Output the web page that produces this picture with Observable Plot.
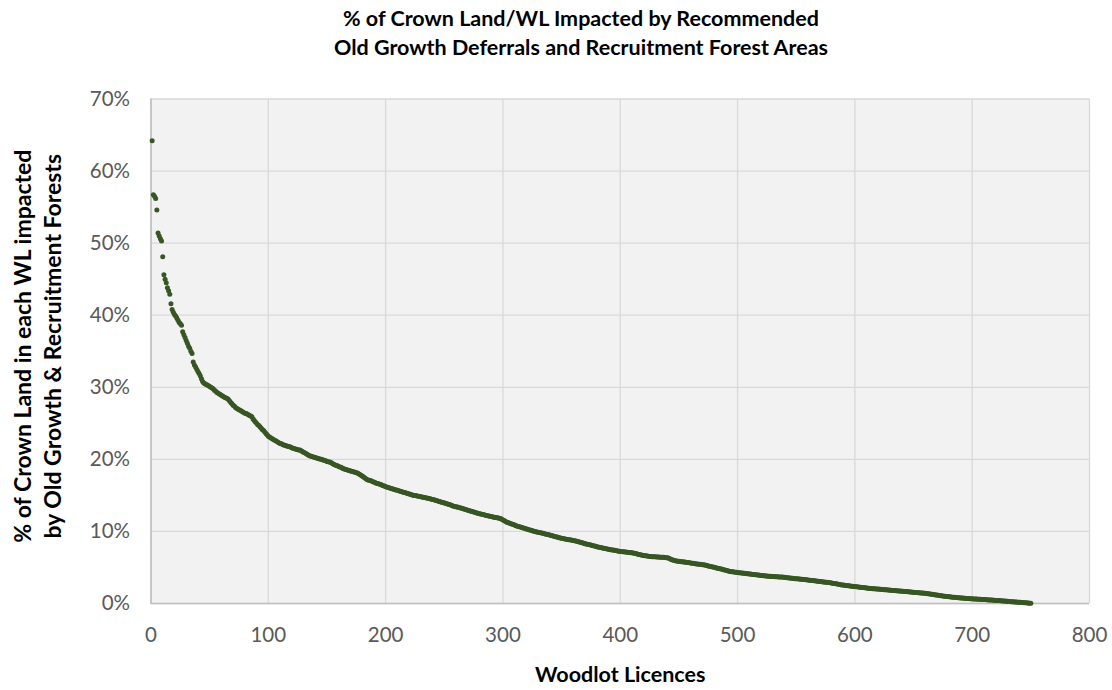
<!DOCTYPE html>
<html>
<head>
<meta charset="utf-8">
<script src="https://cdn.jsdelivr.net/npm/d3@7"></script>
<script src="https://cdn.jsdelivr.net/npm/@observablehq/plot@0.6"></script>
<style>
  html, body { margin: 0; padding: 0; background: #ffffff; }
  #wrap { width: 1112px; height: 690px; position: relative; overflow: hidden; }
  #title { width: 1112px; height: 80px; padding: 4px 0 0 50px; box-sizing: border-box; text-align: center;
           font-family: Lato, "Open Sans", sans-serif; font-weight: 700; font-size: 21.5px; line-height: 29px; color: #000; }
  #chart svg { display: block; }
</style>
</head>
<body>
<div id="wrap">
  <div id="title"></div>
  <div id="chart"></div>
</div>
<script>
const titleLines = ["% of Crown Land/WL Impacted by Recommended", "Old Growth Deferrals and Recruitment Forest Areas"];
const xTitle = "Woodlot Licences";
const yTitleLines = ["% of Crown Land in each WL impacted", "by Old Growth & Recruitment Forests"];
const xTicks = [0, 100, 200, 300, 400, 500, 600, 700, 800];
const yTicks = [0, 10, 20, 30, 40, 50, 60, 70];

// % of Crown Land impacted, one value per woodlot licence, ranked descending
const impactPct = [
  64.2, 56.7, 56.5, 56.2, 54.6, 51.4, 51.0, 50.6, 50.3, 48.1, 45.6, 45.0, 44.5, 43.8, 43.4, 42.9, 41.6, 40.8, 40.4, 40.1, 39.9, 39.6, 39.3, 39.0, 38.8,
  38.6, 37.7, 37.3, 36.9, 36.5, 36.1, 35.7, 35.4, 35.0, 34.7, 33.5, 33.1, 32.8, 32.5, 32.2, 31.9, 31.6, 31.2, 30.8, 30.6, 30.5, 30.4, 30.3, 30.2, 30.1,
  30.0, 29.9, 29.8, 29.6, 29.5, 29.3, 29.2, 29.1, 29.0, 28.9, 28.8, 28.7, 28.6, 28.5, 28.45, 28.3, 28.1, 27.9, 27.7, 27.5, 27.4, 27.2, 27.1, 27.0, 26.9,
  26.8, 26.7, 26.6, 26.5, 26.4, 26.35, 26.3, 26.2, 26.1, 26.0, 25.9, 25.6, 25.4, 25.2, 25.0, 24.8, 24.7, 24.5, 24.3, 24.1, 24.0, 23.8, 23.6, 23.4, 23.2,
  23.1, 23.0, 22.9, 22.8, 22.7, 22.6, 22.5, 22.4, 22.3, 22.2, 22.15, 22.1, 22.0, 21.95, 21.9, 21.85, 21.8, 21.75, 21.7, 21.6, 21.55, 21.5, 21.45, 21.4, 21.35,
  21.3, 21.3, 21.2, 21.1, 21.0, 20.9, 20.8, 20.7, 20.6, 20.5, 20.45, 20.4, 20.35, 20.3, 20.25, 20.2, 20.15, 20.1, 20.05, 20.0, 19.95, 19.9, 19.85, 19.8, 19.7,
  19.68, 19.64, 19.6, 19.5, 19.4, 19.3, 19.2, 19.15, 19.1, 19.0, 18.95, 18.9, 18.8, 18.7, 18.65, 18.6, 18.55, 18.5, 18.45, 18.4, 18.35, 18.3, 18.25, 18.2, 18.15,
  18.1, 18.0, 17.9, 17.8, 17.7, 17.6, 17.45, 17.35, 17.2, 17.15, 17.1, 17.05, 17.0, 16.9, 16.85, 16.8, 16.7, 16.65, 16.6, 16.55, 16.5, 16.4, 16.35, 16.3, 16.2,
  16.15, 16.1, 16.05, 16.0, 15.95, 15.9, 15.85, 15.8, 15.75, 15.7, 15.65, 15.6, 15.55, 15.5, 15.45, 15.4, 15.35, 15.3, 15.25, 15.2, 15.15, 15.1, 15.05, 15.0, 14.97,
  14.94, 14.9, 14.87, 14.84, 14.8, 14.77, 14.74, 14.7, 14.67, 14.63, 14.6, 14.56, 14.52, 14.48, 14.44, 14.4, 14.35, 14.3, 14.25, 14.2, 14.15, 14.1, 14.05, 14.0, 13.95,
  13.9, 13.85, 13.8, 13.75, 13.7, 13.62, 13.56, 13.5, 13.46, 13.42, 13.38, 13.34, 13.3, 13.25, 13.2, 13.15, 13.1, 13.05, 13.0, 12.95, 12.9, 12.85, 12.8, 12.75, 12.7,
  12.65, 12.6, 12.55, 12.5, 12.46, 12.42, 12.38, 12.34, 12.3, 12.26, 12.22, 12.18, 12.14, 12.1, 12.06, 12.02, 11.98, 11.95, 11.92, 11.89, 11.86, 11.83, 11.8, 11.7, 11.6,
  11.5, 11.4, 11.3, 11.25, 11.2, 11.1, 11.05, 11.0, 10.95, 10.88, 10.8, 10.75, 10.7, 10.65, 10.6, 10.55, 10.5, 10.45, 10.4, 10.35, 10.3, 10.25, 10.2, 10.15, 10.1,
  10.05, 10.0, 9.96, 9.92, 9.88, 9.84, 9.8, 9.77, 9.74, 9.7, 9.66, 9.62, 9.58, 9.54, 9.5, 9.45, 9.4, 9.35, 9.3, 9.26, 9.22, 9.18, 9.14, 9.1, 9.06,
  9.02, 8.98, 8.95, 8.92, 8.89, 8.86, 8.83, 8.8, 8.77, 8.74, 8.71, 8.68, 8.65, 8.6, 8.55, 8.5, 8.45, 8.4, 8.35, 8.3, 8.26, 8.22, 8.18, 8.14, 8.1,
  8.05, 8.01, 7.97, 7.93, 7.89, 7.85, 7.81, 7.77, 7.73, 7.69, 7.65, 7.62, 7.59, 7.56, 7.53, 7.5, 7.47, 7.44, 7.41, 7.38, 7.35, 7.32, 7.29, 7.26, 7.23,
  7.21, 7.19, 7.17, 7.15, 7.13, 7.11, 7.09, 7.07, 7.05, 7.03, 7.0, 6.97, 6.93, 6.89, 6.85, 6.81, 6.77, 6.73, 6.7, 6.67, 6.64, 6.61, 6.58, 6.55, 6.52,
  6.51, 6.5, 6.49, 6.48, 6.47, 6.46, 6.45, 6.44, 6.43, 6.42, 6.41, 6.4, 6.38, 6.36, 6.34, 6.32, 6.25, 6.15, 6.08, 6.02, 5.98, 5.94, 5.9, 5.87, 5.85,
  5.83, 5.81, 5.79, 5.77, 5.75, 5.72, 5.7, 5.68, 5.66, 5.63, 5.6, 5.57, 5.54, 5.51, 5.49, 5.47, 5.45, 5.43, 5.41, 5.38, 5.36, 5.33, 5.3, 5.26, 5.22,
  5.18, 5.14, 5.1, 5.06, 5.02, 4.98, 4.94, 4.9, 4.86, 4.82, 4.78, 4.74, 4.7, 4.66, 4.62, 4.57, 4.52, 4.48, 4.45, 4.42, 4.39, 4.36, 4.34, 4.32, 4.3,
  4.28, 4.26, 4.24, 4.22, 4.2, 4.18, 4.16, 4.14, 4.12, 4.1, 4.08, 4.06, 4.04, 4.02, 4.0, 3.98, 3.96, 3.94, 3.92, 3.9, 3.88, 3.86, 3.84, 3.82, 3.8,
  3.79, 3.78, 3.77, 3.76, 3.75, 3.73, 3.72, 3.71, 3.7, 3.69, 3.68, 3.67, 3.66, 3.65, 3.63, 3.61, 3.59, 3.57, 3.55, 3.53, 3.51, 3.49, 3.47, 3.45, 3.43,
  3.42, 3.41, 3.4, 3.38, 3.36, 3.34, 3.32, 3.3, 3.28, 3.26, 3.24, 3.22, 3.2, 3.18, 3.16, 3.14, 3.12, 3.1, 3.08, 3.06, 3.04, 3.02, 3.0, 2.98, 2.96,
  2.94, 2.92, 2.9, 2.88, 2.85, 2.82, 2.79, 2.76, 2.73, 2.7, 2.67, 2.64, 2.61, 2.58, 2.55, 2.53, 2.51, 2.49, 2.47, 2.45, 2.43, 2.41, 2.39, 2.37, 2.35,
  2.33, 2.31, 2.29, 2.27, 2.25, 2.23, 2.21, 2.19, 2.17, 2.15, 2.13, 2.11, 2.09, 2.07, 2.06, 2.05, 2.04, 2.02, 2.01, 2.0, 1.99, 1.97, 1.95, 1.93, 1.92,
  1.91, 1.9, 1.88, 1.87, 1.85, 1.84, 1.82, 1.81, 1.8, 1.78, 1.77, 1.75, 1.74, 1.72, 1.71, 1.69, 1.68, 1.66, 1.65, 1.63, 1.62, 1.6, 1.59, 1.57, 1.56,
  1.54, 1.53, 1.51, 1.5, 1.49, 1.47, 1.46, 1.44, 1.43, 1.41, 1.39, 1.37, 1.34, 1.32, 1.29, 1.27, 1.24, 1.22, 1.19, 1.17, 1.14, 1.12, 1.09, 1.07, 1.04,
  1.02, 1.0, 0.98, 0.96, 0.94, 0.92, 0.9, 0.88, 0.86, 0.85, 0.83, 0.82, 0.8, 0.79, 0.77, 0.76, 0.75, 0.73, 0.72, 0.71, 0.7, 0.68, 0.67, 0.66, 0.65,
  0.64, 0.63, 0.62, 0.61, 0.6, 0.59, 0.58, 0.57, 0.56, 0.55, 0.54, 0.52, 0.51, 0.5, 0.49, 0.48, 0.47, 0.46, 0.45, 0.43, 0.42, 0.41, 0.4, 0.38, 0.37,
  0.36, 0.34, 0.33, 0.32, 0.3, 0.29, 0.28, 0.26, 0.25, 0.24, 0.22, 0.21, 0.2, 0.18, 0.17, 0.16, 0.14, 0.13, 0.12, 0.1, 0.09, 0.07, 0.06, 0.05, 0.04
];

const rows = impactPct.map((pct, i) => ({licence: i + 1, pct}));

document.getElementById("title").innerHTML = titleLines.join("<br>");

const FONT = "Lato, 'Open Sans', sans-serif";
const chart = Plot.plot({
  width: 1112,
  height: 610,
  marginTop: 18.5,
  marginBottom: 87,
  marginLeft: 150.5,
  marginRight: 23,
  style: {fontFamily: FONT, fontSize: "20px", color: "#595959", background: "transparent", overflow: "visible"},
  x: {domain: [0, 800], ticks: xTicks},
  y: {domain: [0, 70], ticks: yTicks},
  marks: [
    Plot.frame({fill: "#f2f2f2", stroke: null}),
    Plot.gridX(xTicks, {stroke: "#d9d9d9", strokeOpacity: 1, strokeWidth: 1.3}),
    Plot.gridY(yTicks, {stroke: "#d9d9d9", strokeOpacity: 1, strokeWidth: 1.3}),
    Plot.ruleX([0], {stroke: "#bfbfbf", strokeWidth: 1.6}),
    Plot.ruleY([0], {stroke: "#bfbfbf", strokeWidth: 1.6}),
    Plot.axisX(xTicks, {tickSize: 0, tickPadding: 24, fontSize: 20.5, fill: "#595959", label: null}),
    Plot.axisY(yTicks, {tickSize: 0, tickPadding: 21, fontSize: 20.5, fill: "#595959", tickFormat: d => d + "%", label: null}),
    Plot.dot(rows, {x: "licence", y: "pct", r: 2.5, fill: "#375623", stroke: null}),
    Plot.text([xTitle], {frameAnchor: "bottom", text: d => d, dy: 72, fontSize: 21.5, fontWeight: 700, fill: "#000", textAnchor: "middle", lineAnchor: "middle"}),
    Plot.text([yTitleLines[0]], {frameAnchor: "left", text: d => d, rotate: -90, dx: -127, dy: -5, fontSize: 23, fontWeight: 700, fill: "#000", textAnchor: "middle", lineAnchor: "middle"}),
    Plot.text([yTitleLines[1]], {frameAnchor: "left", text: d => d, rotate: -90, dx: -97, dy: -5, fontSize: 23, fontWeight: 700, fill: "#000", textAnchor: "middle", lineAnchor: "middle"})
  ]
});
document.getElementById("chart").appendChild(chart);
</script>
</body>
</html>
